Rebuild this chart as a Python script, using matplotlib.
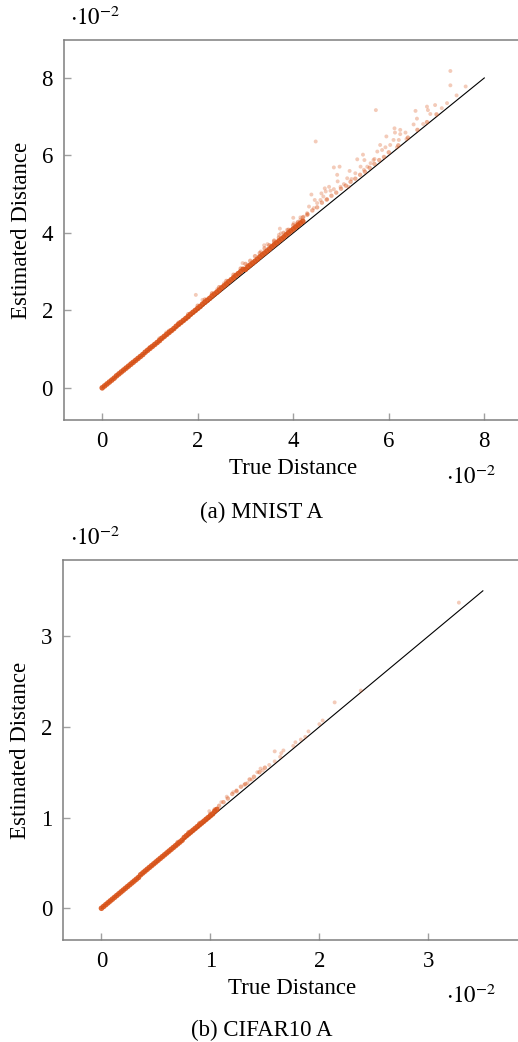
import matplotlib
matplotlib.use("Agg")
import matplotlib.pyplot as plt

plt.rcParams["font.family"] = ["Liberation Serif", "DejaVu Serif"]
plt.rcParams["mathtext.fontset"] = "stix"

# ---- data (units of 1e-2) ----
# MNIST A: dense band near the diagonal
mnist_dense_true = [0.00, 0.05, 0.10, 0.15, 0.20, 0.25, 0.30, 0.35, 0.40, 0.45,
                    0.50, 0.55, 0.60, 0.65, 0.70, 0.75, 0.80, 0.85, 0.90, 0.95,
                    1.00, 1.05, 1.10, 1.15, 1.20, 1.25, 1.30, 1.35, 1.40, 1.45,
                    1.50, 1.55, 1.60, 1.65, 1.70, 1.75, 1.80, 1.85, 1.90, 1.95,
                    2.00, 2.05, 2.10, 2.15, 2.20, 2.25, 2.30, 2.35, 2.40, 2.45,
                    2.50, 2.55, 2.60, 2.65, 2.70, 2.75, 2.80, 2.85, 2.90, 2.95,
                    3.00, 3.05, 3.10, 3.15, 3.20, 3.25, 3.30, 3.35, 3.40, 3.45,
                    3.50, 3.55, 3.60, 3.65, 3.70, 3.75, 3.80, 3.85, 3.90, 3.95,
                    4.00, 4.05, 4.10, 4.15, 4.20]
mnist_dense_est = [0.00, 0.05, 0.10, 0.15, 0.20, 0.25, 0.31, 0.36, 0.41, 0.46,
                   0.51, 0.56, 0.61, 0.66, 0.71, 0.76, 0.81, 0.86, 0.92, 0.97,
                   1.02, 1.07, 1.12, 1.17, 1.22, 1.28, 1.33, 1.38, 1.43, 1.48,
                   1.53, 1.59, 1.64, 1.69, 1.74, 1.79, 1.84, 1.90, 1.95, 2.00,
                   2.05, 2.10, 2.16, 2.21, 2.26, 2.31, 2.37, 2.42, 2.47, 2.52,
                   2.58, 2.63, 2.68, 2.74, 2.79, 2.84, 2.90, 2.95, 3.00, 3.06,
                   3.06, 3.12, 3.17, 3.22, 3.27, 3.32, 3.38, 3.43, 3.48, 3.53,
                   3.58, 3.64, 3.69, 3.74, 3.79, 3.84, 3.89, 3.95, 4.00, 4.05,
                   4.10, 4.15, 4.20, 4.25, 4.30]
# MNIST A: lighter points hugging the band
mnist_near_true = [1.00, 1.20, 1.40, 1.60, 1.80, 2.00, 2.15, 2.30, 2.45, 2.60,
                   2.75, 2.90, 3.00, 3.10, 3.20, 3.30, 3.40, 3.50, 3.60, 3.70,
                   3.80, 3.90, 4.00, 4.10, 4.20, 4.30, 4.40, 4.50, 4.60, 4.70,
                   4.80, 4.90, 5.00, 5.10, 5.20, 5.30, 5.40, 5.50, 5.60, 5.70,
                   5.80, 5.90, 6.00, 6.20, 6.40, 6.60, 6.80, 7.00]
mnist_near_est = [1.05, 1.27, 1.47, 1.68, 1.90, 2.12, 2.28, 2.44, 2.60, 2.76,
                  2.92, 3.08, 3.20, 3.28, 3.40, 3.48, 3.60, 3.68, 3.80, 3.88,
                  4.00, 4.08, 4.20, 4.28, 4.40, 4.48, 4.58, 4.66, 4.78, 4.86,
                  4.96, 5.04, 5.14, 5.22, 5.32, 5.40, 5.50, 5.58, 5.68, 5.78,
                  5.88, 5.96, 6.08, 6.26, 6.46, 6.66, 6.86, 7.06]
# MNIST A: looser points above the band
mnist_true = [0.61, 1.34, 1.96, 2.10, 2.41, 2.55, 2.62, 2.76, 2.94, 3.04,
              3.32, 3.39, 3.46, 3.53, 3.60, 3.60, 3.70, 3.72, 3.74, 3.81,
              3.87, 4.00, 4.01, 4.08, 4.08, 4.15, 4.15, 4.22, 4.29, 4.29,
              4.33, 4.38, 4.43, 4.45, 4.47, 4.50, 4.57, 4.59, 4.63, 4.66,
              4.68, 4.71, 4.75, 4.78, 4.85, 4.85, 4.92, 4.93, 4.97, 4.99,
              5.06, 5.13, 5.16, 5.18, 5.22, 5.30, 5.34, 5.41, 5.46, 5.48,
              5.49, 5.55, 5.62, 5.68, 5.70, 5.73, 5.76, 5.82, 5.86, 5.93,
              5.95, 6.03, 6.10, 6.12, 6.13, 6.17, 6.21, 6.24, 6.24, 6.35,
              6.37, 6.52, 6.56, 6.59, 6.72, 6.80, 6.82, 6.87, 6.97, 7.11,
              7.22, 7.29, 7.29, 7.42, 7.61]
mnist_est = [0.65, 1.43, 2.40, 2.27, 2.55, 2.70, 2.70, 2.87, 3.22, 3.17,
             3.52, 3.68, 3.71, 3.65, 3.78, 3.73, 3.95, 4.11, 3.99, 3.90,
             4.08, 4.39, 4.25, 4.16, 4.25, 4.34, 4.40, 4.42, 4.51, 4.46,
             4.68, 4.99, 4.64, 4.85, 6.36, 4.77, 4.85, 5.02, 4.94, 5.15,
             5.07, 4.87, 5.19, 5.09, 5.13, 5.69, 5.50, 5.33, 5.71, 5.19,
             5.26, 5.41, 5.19, 5.60, 5.39, 5.54, 5.90, 5.71, 6.02, 5.63,
             5.88, 5.71, 5.80, 5.88, 5.91, 7.17, 6.10, 6.27, 6.14, 6.21,
             6.49, 6.27, 6.40, 6.70, 6.59, 6.21, 6.40, 6.66, 6.55, 6.59,
             6.42, 6.80, 7.15, 6.95, 6.81, 7.26, 7.17, 7.07, 7.30, 7.22,
             7.35, 8.18, 7.81, 7.55, 7.78]

# CIFAR10 A: dense band near the diagonal
cifar_dense_true = [0.00, 0.02, 0.04, 0.06, 0.08, 0.10, 0.12, 0.14, 0.16, 0.18,
                    0.20, 0.22, 0.24, 0.26, 0.28, 0.30, 0.32, 0.34, 0.36, 0.38,
                    0.40, 0.42, 0.44, 0.46, 0.48, 0.50, 0.52, 0.54, 0.56, 0.58,
                    0.60, 0.62, 0.64, 0.66, 0.68, 0.70, 0.72, 0.74, 0.76, 0.78,
                    0.80, 0.82, 0.84, 0.86, 0.88, 0.90, 0.92, 0.94, 0.96, 0.98,
                    1.00, 1.02, 1.04, 1.06]
cifar_dense_est = [0.00, 0.02, 0.04, 0.06, 0.08, 0.10, 0.12, 0.14, 0.16, 0.18,
                   0.20, 0.22, 0.24, 0.26, 0.28, 0.30, 0.32, 0.34, 0.37, 0.39,
                   0.41, 0.43, 0.45, 0.47, 0.49, 0.51, 0.53, 0.55, 0.57, 0.59,
                   0.61, 0.63, 0.65, 0.67, 0.69, 0.71, 0.73, 0.75, 0.78, 0.80,
                   0.82, 0.84, 0.86, 0.88, 0.90, 0.92, 0.94, 0.96, 0.98, 1.00,
                   1.02, 1.04, 1.07, 1.09]
# CIFAR10 A: lighter points hugging the band
cifar_near_true = [0.70, 0.80, 0.90, 1.00, 1.04, 1.08, 1.12, 1.16, 1.20, 1.24,
                   1.28, 1.32, 1.36, 1.40, 1.45, 1.50]
cifar_near_est = [0.73, 0.84, 0.94, 1.04, 1.09, 1.13, 1.17, 1.21, 1.26, 1.29,
                  1.34, 1.37, 1.42, 1.45, 1.50, 1.55]
# CIFAR10 A: looser points above the band
cifar_true = [0.96, 0.99, 1.10, 1.15, 1.21, 1.24, 1.31, 1.34, 1.38, 1.43,
              1.46, 1.48, 1.54, 1.59, 1.59, 1.64, 1.65, 1.67, 1.76, 1.78,
              1.83, 1.87, 1.90, 2.00, 2.03, 2.14, 2.38, 3.28]
cifar_est = [0.99, 1.07, 1.17, 1.23, 1.28, 1.30, 1.36, 1.38, 1.42, 1.50,
             1.54, 1.52, 1.58, 1.62, 1.73, 1.67, 1.71, 1.74, 1.79, 1.83,
             1.86, 1.89, 1.95, 2.03, 2.07, 2.27, 2.40, 3.37]

DOT = "#d9541a"
SPINE = "#7f7f7f"
FS = 16.5


def style_axes(ax, xlim, ylim, ticks):
    ax.set_xlim(*xlim)
    ax.set_ylim(*ylim)
    ax.set_xticks(ticks)
    ax.set_yticks(ticks)
    ax.set_xticklabels([f"{t:g}" for t in ticks])
    ax.set_yticklabels([f"{t:g}" for t in ticks])
    for sp in ax.spines.values():
        sp.set_color(SPINE)
        sp.set_linewidth(1.1)
    ax.tick_params(direction="in", length=5, width=1.0, color="#a0a0a0",
                   labelsize=FS, pad=8, top=False, right=False)
    ax.set_xlabel("True Distance", fontsize=FS, labelpad=4)
    ax.set_ylabel("Estimated Distance", fontsize=FS, labelpad=7)


def draw(ax, dense_x, dense_y, near_x, near_y, xs, ys, line_end):
    ax.plot([0, line_end], [0, line_end], color="black", linewidth=0.8, zorder=2)
    ax.scatter(xs, ys, s=8, color=DOT, alpha=0.3, edgecolors="none", zorder=3)
    ax.scatter(near_x, near_y, s=10, color=DOT, alpha=0.45, edgecolors="none", zorder=3)
    ax.scatter(dense_x, dense_y, s=16, color=DOT, alpha=0.9, edgecolors="none", zorder=3)


fig = plt.figure(figsize=(5.18, 10.42), dpi=100)

ax1 = fig.add_axes([64 / 518, 1 - 420 / 1042, 458.5 / 518, 380 / 1042])
draw(ax1, mnist_dense_true, mnist_dense_est, mnist_near_true, mnist_near_est,
     mnist_true, mnist_est, 8)
style_axes(ax1, (-0.8, 8.8), (-0.83, 8.98), [0, 2, 4, 6, 8])

ax2 = fig.add_axes([63.3 / 518, 1 - 940 / 1042, 457.7 / 518, 380 / 1042])
draw(ax2, cifar_dense_true, cifar_dense_est, cifar_near_true, cifar_near_est,
     cifar_true, cifar_est, 3.5)
style_axes(ax2, (-0.35, 3.85), (-0.35, 3.84), [0, 1, 2, 3])

# pgfplots-style scale labels and sub-captions
for x, y in [(70, 18), (446, 477), (70, 538), (446, 996)]:
    fig.text(x / 518, 1 - y / 1042, r"$\cdot 10^{-2}$", fontsize=FS,
             va="center", ha="left")
fig.text(262 / 518, 1 - 512 / 1042, "(a) MNIST A", fontsize=FS, ha="center", va="center")
fig.text(262 / 518, 1 - 1030 / 1042, "(b) CIFAR10 A", fontsize=FS, ha="center", va="center")

fig.savefig("out.png", dpi=100)
